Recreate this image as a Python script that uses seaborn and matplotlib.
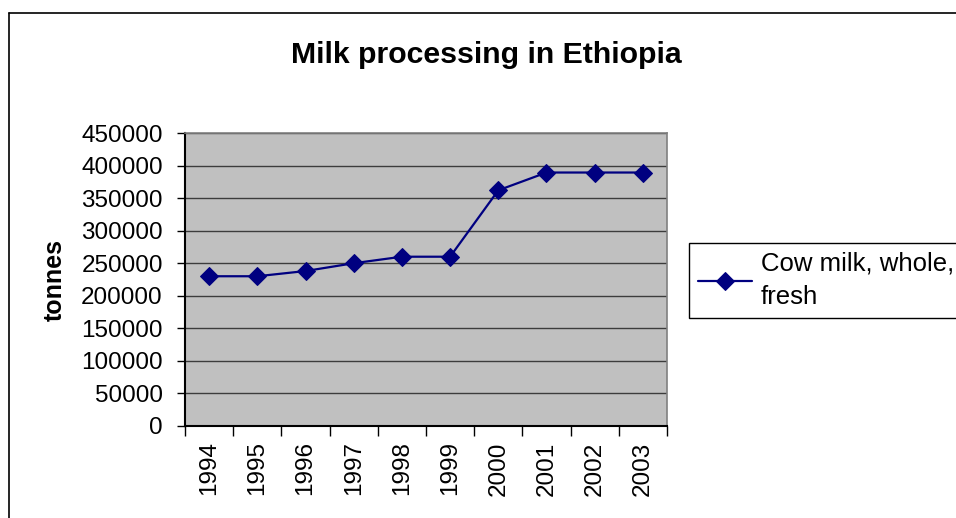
import matplotlib
matplotlib.use("Agg")
import matplotlib.pyplot as plt
from matplotlib.lines import Line2D
import seaborn as sns
import pandas as pd
import numpy as np

# Ethiopia, cow milk (whole, fresh), tonnes per year
years = ["1994", "1995", "1996", "1997", "1998", "1999", "2000", "2001", "2002", "2003"]
tonnes = [230000, 230000, 238000, 250000, 260000, 260000, 362000, 389300, 389300, 389300]
series_name = "Cow milk, whole,\nfresh"
y_ticks = [0, 50000, 100000, 150000, 200000, 250000, 300000, 350000, 400000, 450000]

df = pd.DataFrame({"pos": np.arange(len(years)), "tonnes": tonnes, "series": series_name})

sns.set_style("ticks")
plt.rcParams["font.family"] = ["Liberation Sans", "DejaVu Sans"]
plt.rcParams.update({"text.color": "black", "xtick.color": "black",
                     "ytick.color": "black", "axes.labelcolor": "black"})

W, H = 956, 518
fig = plt.figure(figsize=(W / 100, H / 100), dpi=100)
ax = fig.add_axes([185 / W, 1 - 426 / H, (667 - 185) / W, (426 - 133) / H])
ax.set_facecolor("#C0C0C0")

sns.lineplot(data=df, x="pos", y="tonnes", hue="series", palette=["#000080"],
             marker="D", markersize=9.5, markeredgecolor="#000080", linewidth=1.6,
             ax=ax, legend=True)

# value axis
ax.set_ylim(0, 450000)
ax.set_yticks(y_ticks)
ax.set_yticklabels([str(v) for v in y_ticks], fontsize=17.5)
ax.tick_params(axis="y", direction="out", length=6, width=1, pad=10, color="black")
for v in y_ticks[1:]:
    ax.axhline(v, color="#3c3c3c", lw=1.0, zorder=1)

# category axis: ticks between categories, labels at the centres
ax.set_xlim(-0.5, len(years) - 0.5)
ax.set_xticks(np.arange(len(years) + 1) - 0.5)
ax.set_xticklabels([])
ax.tick_params(axis="x", which="major", direction="out", length=7, width=1, color="black")
ax.set_xticks(np.arange(len(years)), minor=True)
ax.set_xticklabels(years, minor=True, rotation=90, fontsize=17.5)
ax.tick_params(axis="x", which="minor", length=0, pad=11)
ax.set_xlabel("")
ax.set_ylabel("")

for side in ["top", "right"]:
    ax.spines[side].set_visible(True)
    ax.spines[side].set_color("#808080")
    ax.spines[side].set_linewidth(1.2)
for side in ["left", "bottom"]:
    ax.spines[side].set_color("black")
    ax.spines[side].set_linewidth(1.5)

handles, labels = ax.get_legend_handles_labels()
leg = ax.legend(handles, labels, loc="upper left",
                bbox_to_anchor=(689 / W, 1 - 243 / H), bbox_transform=fig.transFigure,
                fontsize=18.5, frameon=True, fancybox=False, framealpha=1,
                edgecolor="black", handlelength=2.1, handletextpad=0.35,
                borderpad=0.35, borderaxespad=0)
leg.get_frame().set_linewidth(1.0)
for t in leg.get_texts():
    t.set_linespacing(1.45)

fig.text(486 / W, 1 - 63 / H, "Milk processing in Ethiopia", ha="center",
         va="baseline", fontsize=21.8, fontweight="bold")
fig.text(55 / W, 1 - 280 / H, "tonnes", rotation=90, ha="center", va="center",
         fontsize=18, fontweight="bold")

# chart area border (top and left edges)
fig.add_artist(Line2D([8.5 / W, 1.0], [1 - 13 / H, 1 - 13 / H], transform=fig.transFigure,
                      color="black", lw=1.2))
fig.add_artist(Line2D([8.5 / W, 8.5 / W], [0, 1 - 13 / H], transform=fig.transFigure,
                      color="black", lw=1.2))

fig.savefig("out.png", dpi=100, facecolor="white")
